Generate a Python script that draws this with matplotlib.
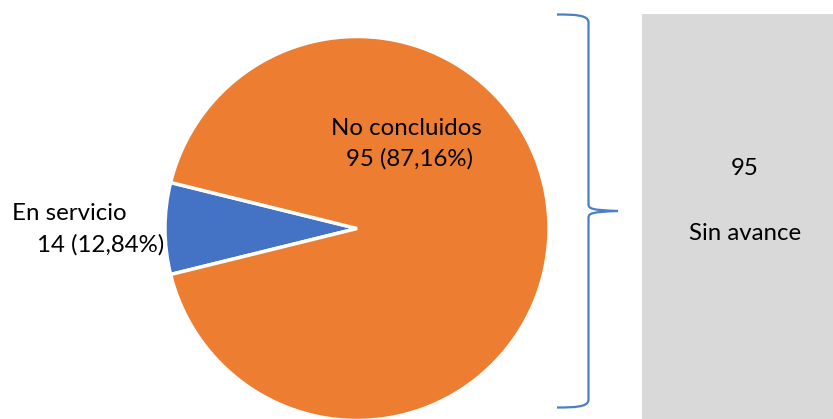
import matplotlib
matplotlib.use('Agg')
from matplotlib import pyplot as plt
from matplotlib.path import Path
from matplotlib.patches import PathPatch, Rectangle

# slices as drawn in the picture (blue wedge spans about 28 degrees)
categories = ['En servicio', 'No concluidos']
drawn_share = [7.7, 92.3]
counts = [14, 95]
percent_labels = ['12,84%', '87,16%']
colors = ['#4472C4', '#ED7D31']

side_count = 95
side_label = 'Sin avance'

plt.rcParams['font.family'] = ['Lato', 'DejaVu Sans']

fig = plt.figure(figsize=(8.33, 4.19), dpi=100)
ax = fig.add_axes([0, 0, 1, 1])

half = drawn_share[0] / 100 * 360 / 2
ax.pie(drawn_share, colors=colors, center=(357, 228.5), radius=192,
       startangle=180 - half, counterclock=True,
       wedgeprops=dict(edgecolor='white', linewidth=2.5))
ax.set_xlim(0, 833)
ax.set_ylim(419, 0)
ax.set_aspect('equal')
ax.axis('off')

fs = 17.3
ax.text(12, 220, categories[0], fontsize=fs, ha='left', va='baseline')
ax.text(164, 252, '%d (%s)' % (counts[0], percent_labels[0]), fontsize=fs,
        ha='right', va='baseline')
ax.text(406, 135, categories[1], fontsize=fs, ha='center', va='baseline')
ax.text(410, 166, '%d (%s)' % (counts[1], percent_labels[1]), fontsize=fs,
        ha='center', va='baseline')

# grey box on the right
ax.add_patch(Rectangle((642, 14), 200, 420, facecolor='#D9D9D9',
                       edgecolor='none', zorder=1))
ax.text(745, 175, str(side_count), fontsize=fs, ha='center', va='baseline')
ax.text(745, 240, side_label, fontsize=fs, ha='center', va='baseline')

# brace
verts = [(557, 14.5), (575, 14.5), (588, 15), (588.5, 22),
         (588.5, 204),
         (588.5, 209), (592, 210), (618, 211),
         (592, 212), (588.5, 213), (588.5, 218),
         (588.5, 400),
         (588, 407), (575, 407.5), (557, 407.5)]
codes = [Path.MOVETO, Path.CURVE4, Path.CURVE4, Path.CURVE4,
         Path.LINETO,
         Path.CURVE4, Path.CURVE4, Path.CURVE4,
         Path.CURVE4, Path.CURVE4, Path.CURVE4,
         Path.LINETO,
         Path.CURVE4, Path.CURVE4, Path.CURVE4]
ax.add_patch(PathPatch(Path(verts, codes), facecolor='none',
                       edgecolor='#4A7EC7', linewidth=1.6, zorder=3))

fig.savefig('out.png', dpi=100)
